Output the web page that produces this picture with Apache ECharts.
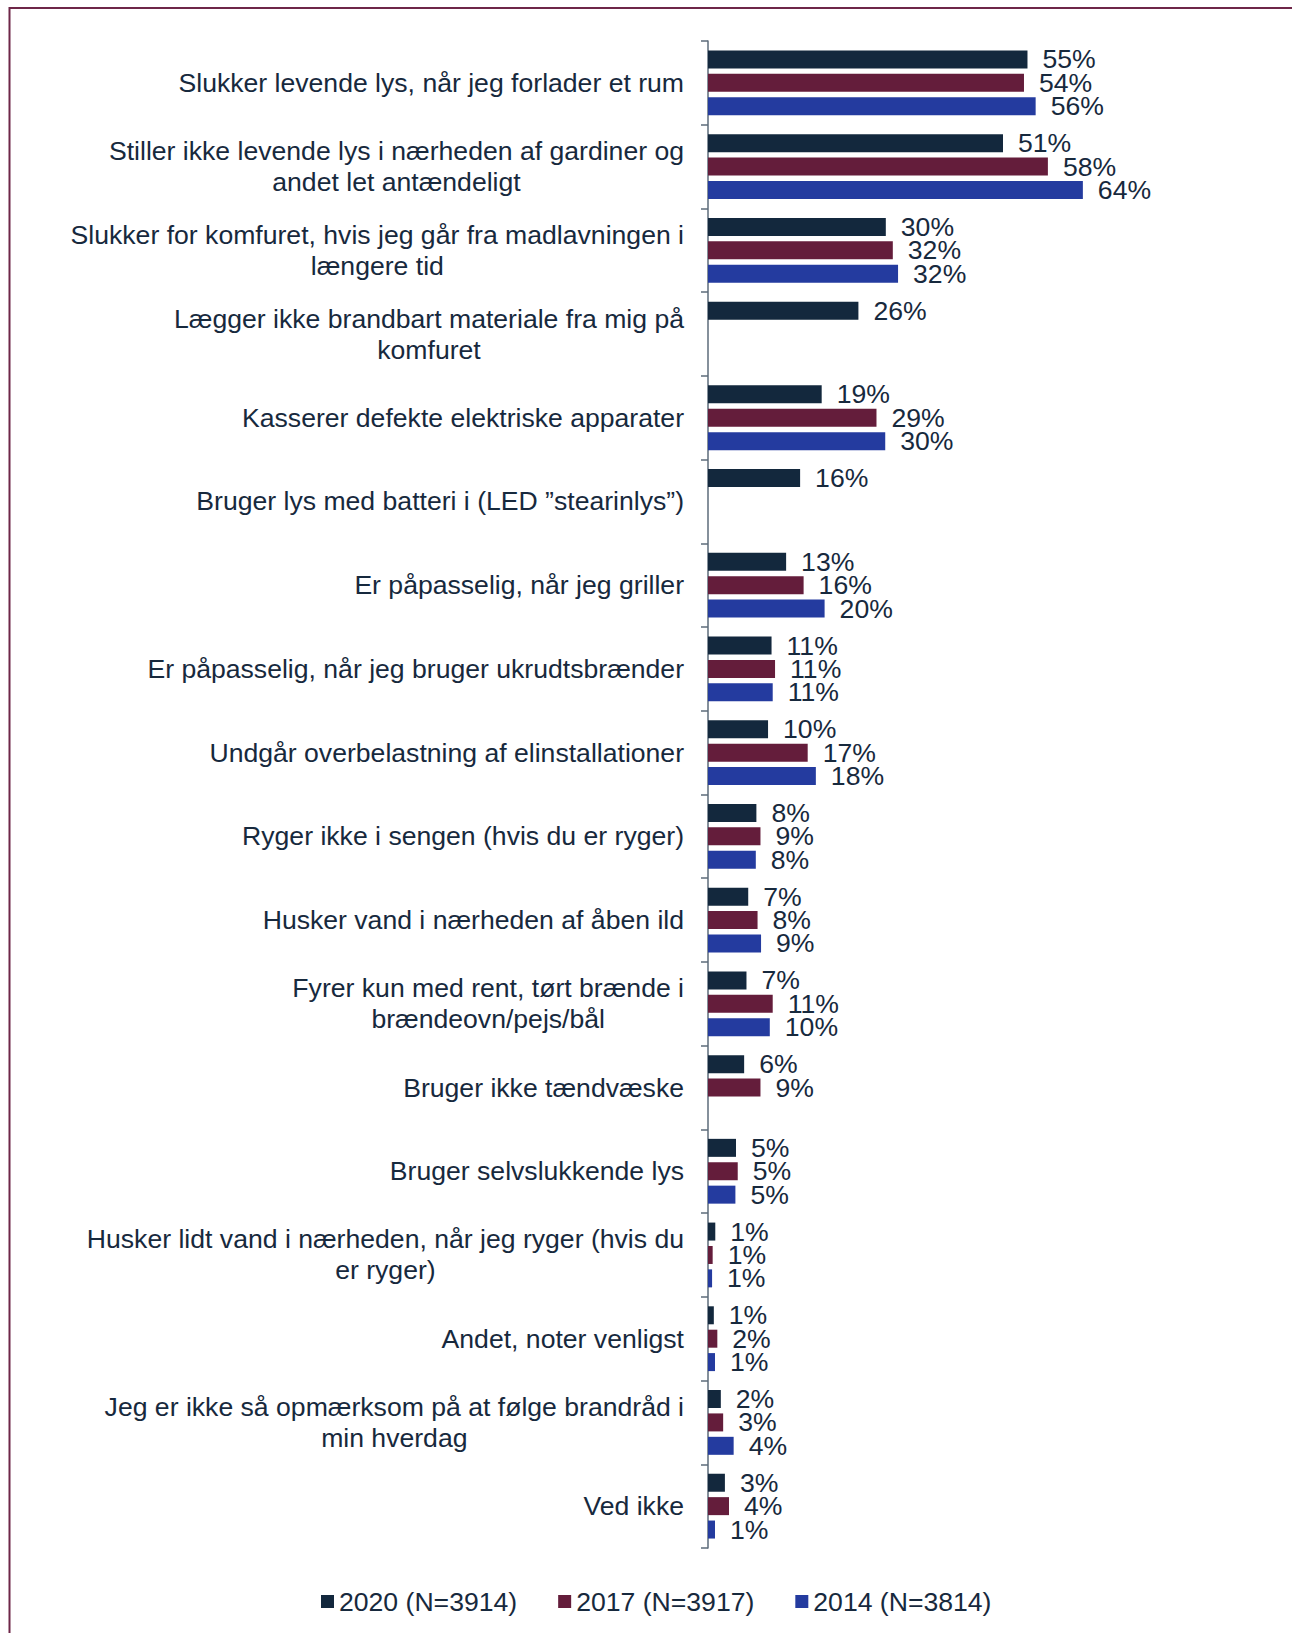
<!DOCTYPE html>
<html>
<head>
<meta charset="utf-8">
<script src="https://cdn.jsdelivr.net/npm/echarts@6/dist/echarts.min.js"></script>
<style>
html,body{margin:0;padding:0;background:#fff;}
#chart{width:1292px;height:1633px;}
</style>
</head>
<body>
<div id="chart"></div>
<script>
// Categories (top to bottom)
const categories = [
  'Slukker levende lys, når jeg forlader et rum',
  'Stiller ikke levende lys i nærheden af gardiner og\nandet let antændeligt',
  'Slukker for komfuret, hvis jeg går fra madlavningen i\nlængere tid',
  'Lægger ikke brandbart materiale fra mig på\nkomfuret',
  'Kasserer defekte elektriske apparater',
  'Bruger lys med batteri i (LED ”stearinlys”)',
  'Er påpasselig, når jeg griller',
  'Er påpasselig, når jeg bruger ukrudtsbrænder',
  'Undgår overbelastning af elinstallationer',
  'Ryger ikke i sengen (hvis du er ryger)',
  'Husker vand i nærheden af åben ild',
  'Fyrer kun med rent, tørt brænde i\nbrændeovn/pejs/bål',
  'Bruger ikke tændvæske',
  'Bruger selvslukkende lys',
  'Husker lidt vand i nærheden, når jeg ryger (hvis du\ner ryger)',
  'Andet, noter venligst',
  'Jeg er ikke så opmærksom på at følge brandråd i\nmin hverdag',
  'Ved ikke'
];

// Series names
const seriesNames = ['2020 (N=3914)', '2017 (N=3917)', '2014 (N=3814)'];

// Bar values (in %)
const v2020 = [54.8, 50.6, 30.5, 25.8, 19.5, 15.8, 13.4, 10.9, 10.3, 8.3, 6.9, 6.6, 6.2, 4.8, 1.25, 1.0, 2.2, 2.9];
const v2017 = [54.2, 58.3, 31.7, null, 28.9, null, 16.4, 11.5, 17.1, 9.0, 8.5, 11.1, 9.0, 5.1, 0.8, 1.6, 2.6, 3.6];
const v2014 = [56.2, 64.3, 32.6, null, 30.4, null, 20.0, 11.1, 18.5, 8.2, 9.1, 10.6, null, 4.7, 0.7, 1.2, 4.4, 1.2];

// Displayed percentage labels
const lab2020 = [55, 51, 30, 26, 19, 16, 13, 11, 10, 8, 7, 7, 6, 5, 1, 1, 2, 3];
const lab2017 = [54, 58, 32, null, 29, null, 16, 11, 17, 9, 8, 11, 9, 5, 1, 2, 3, 4];
const lab2014 = [56, 64, 32, null, 30, null, 20, 11, 18, 8, 9, 10, null, 5, 1, 1, 4, 1];

const colors = ['#13283d', '#641d3b', '#243b9f'];
const textColor = '#17293d';
const FONT = '"Liberation Sans", Arial, sans-serif';
const FS = 26.6;

const chart = echarts.init(document.getElementById('chart'), null, {renderer: 'svg'});

function mkSeries(name, data, labels, color) {
  return {
    name: name,
    type: 'bar',
    data: data,
    barWidth: 18,
    barGap: '30%',
    itemStyle: {color: color},
    label: {
      show: true,
      position: 'right',
      distance: 15,
      fontSize: FS,
      fontFamily: FONT,
      color: textColor,
      formatter: p => labels[p.dataIndex] == null ? '' : labels[p.dataIndex] + '%'
    },
    emphasis: {disabled: true}
  };
}

chart.setOption({
  animation: false,
  backgroundColor: '#fff',
  color: colors,
  textStyle: {fontFamily: FONT},
  graphic: [{
    type: 'polyline',
    shape: {points: [[9.5, 1633], [9.5, 8], [1292, 8]]},
    style: {stroke: '#6e2648', lineWidth: 2, fill: null},
    silent: true
  }],
  legend: {
    data: seriesNames,
    left: 316,
    top: 1583,
    itemWidth: 13,
    itemHeight: 13,
    itemGap: 41,
    icon: 'rect',
    selectedMode: false,
    textStyle: {fontSize: FS, fontFamily: FONT, color: textColor}
  },
  grid: {left: 708, top: 41, width: 70 * 5.83, height: 1507, containLabel: false},
  xAxis: {
    type: 'value',
    min: 0,
    max: 70,
    show: false,
    splitLine: {show: false}
  },
  yAxis: {
    type: 'category',
    inverse: true,
    data: categories,
    axisLine: {show: true, lineStyle: {color: '#5d6b7a', width: 1.5}},
    axisTick: {show: true, length: 7, lineStyle: {color: '#5d6b7a', width: 1.5}},
    axisLabel: {
      margin: 24,
      fontSize: FS,
      fontFamily: FONT,
      color: textColor,
      lineHeight: 31,
      formatter: v => v.split('\n').map(l => '{c|' + l + '}').join('\n'),
      rich: {c: {align: 'center', fontSize: FS, fontFamily: FONT, color: textColor, lineHeight: 31}}
    }
  },
  series: [
    mkSeries(seriesNames[0], v2020, lab2020, colors[0]),
    mkSeries(seriesNames[1], v2017, lab2017, colors[1]),
    mkSeries(seriesNames[2], v2014, lab2014, colors[2])
  ]
});
</script>
</body>
</html>
